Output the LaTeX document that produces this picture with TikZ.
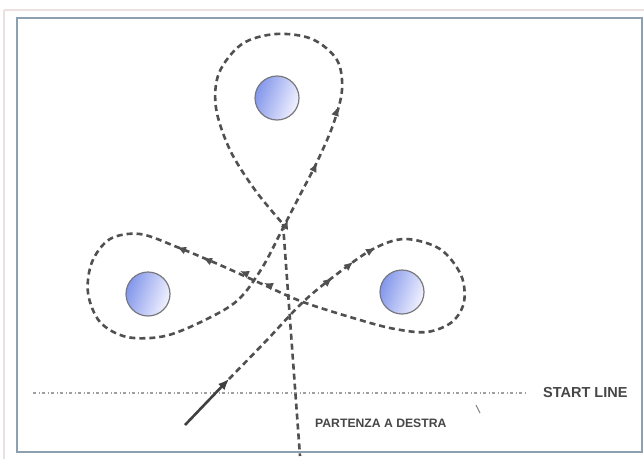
\documentclass[tikz,border=0pt]{standalone}
\usepackage{fontspec}
\setmainfont{Liberation Sans}
\usetikzlibrary{arrows.meta}
\definecolor{pathgray}{RGB}{80,80,80}
\definecolor{framecol}{RGB}{140,160,175}
\definecolor{outercol}{RGB}{236,224,224}
\definecolor{buoyblue}{RGB}{130,150,235}
\definecolor{buoyedge}{RGB}{120,120,125}
\definecolor{txtgray}{RGB}{70,70,70}
\tikzset{
  course/.style={draw=pathgray, line width=2.6pt, dash pattern=on 6pt off 4pt, line cap=butt},
  tipmark/.style={draw=pathgray, line width=1.4pt, -{Latex[length=9pt,width=8pt]}},
  buoy/.style={circle, draw=buoyedge, line width=1.2pt, minimum size=44pt, inner sep=0pt,
    left color=buoyblue, right color=white!95!blue, shading angle=70},
  lbl/.style={font=\bfseries, text=txtgray, inner sep=0pt, anchor=west},
  startline/.style={draw=gray!75, line width=1.5pt, dash pattern=on 3pt off 2.5pt on 1pt off 2.5pt}
}
\begin{document}
\begin{tikzpicture}[x=1pt,y=-1pt]
\useasboundingbox (0,0) rectangle (644,459);
% frames
\draw[outercol, line width=1.2pt] (4,10) -- (644,10);
\draw[outercol, line width=1.2pt] (4,10) -- (4,459);
\draw[framecol, line width=2pt] (17,18) rectangle (642,452);
% buoys
\node[buoy] (btop) at (277,98) {};
\node[buoy] (bleft) at (148,294) {};
\node[buoy] (bright) at (402,292) {};
% start line
\coordinate (sl1) at (33,393);
\coordinate (sl2) at (527,393);
\draw[startline] (sl1) -- (sl2);
\node[lbl, font=\bfseries\fontsize{14.5}{16}\selectfont] (startlbl) at (543,392) {START LINE};
\node[lbl, font=\bfseries\fontsize{12.2}{14}\selectfont] (partlbl) at (315,423) {PARTENZA A DESTRA};
% course
\coordinate (s0) at (185,425);
\coordinate (s1) at (229,379);
\draw[draw=pathgray!80!black, line width=2.6pt, -{Latex[length=11pt,width=9pt]}] (s0) -- (s1);
\draw[course] plot[smooth, tension=0.55] coordinates {
 (229,379) (266,341) (303,302) (337,274) (373,249) (405,239) (440,249) (461,275) (464,302)
 (452,322) (427,332) (395,329) (360,320) (303,302) (262,284) (220,265) (177,247)
 (140,234) (110,239) (92,262) (88,293) (100,322) (127,337) (165,336) (205,320)
 (238,300) (262,268) (283,228) (300,195) (317,162) (333,125) (342,90) (337,60)
 (312,39) (276,34) (242,44) (219,73) (216,108) (230,150) (255,190) (283,224)};
\coordinate (f0) at (283,224);
\coordinate (f1) at (300,456);
\draw[course] (f0) -- (f1);
% direction marks
\foreach \xa/\ya/\xb/\yb in {326/283/332/278, 347/267/353/262, 368/252/375/248,
                   184/250/177/247, 210/261/203/258, 247/274/240/271, 271/286/264/283,
                   285/227/288/220, 314/169/317/163, 336/113/338/107}{
  \draw[tipmark] (\xa,\ya) -- (\xb,\yb);
}
% cursor mark
\draw[gray, line width=1pt] (476,405) -- (480,413);
\end{tikzpicture}
\end{document}
